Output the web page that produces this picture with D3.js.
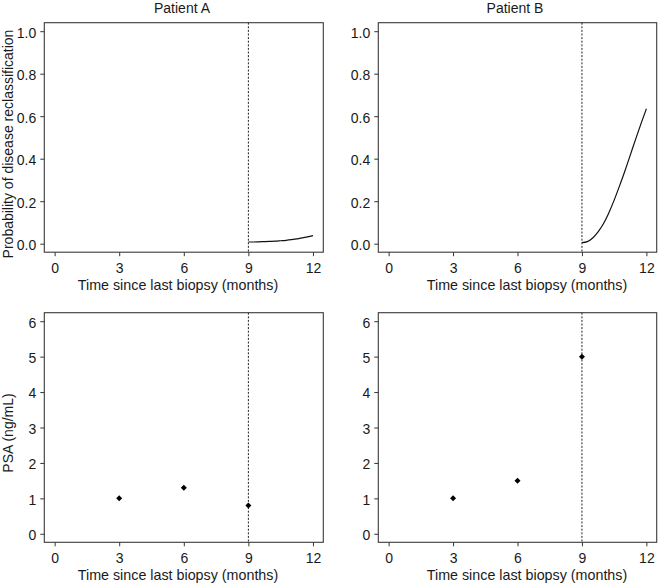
<!DOCTYPE html>
<html>
<head>
<meta charset="utf-8">
<script src="https://cdn.jsdelivr.net/npm/d3@7"></script>
<style>
  html, body { margin: 0; padding: 0; background: #fff; }
  svg { display: block; font-family: "Liberation Sans", Arial, Helvetica, sans-serif; }
</style>
</head>
<body>
<svg id="chart" width="659" height="586"></svg>
<script>
// ---------- data ----------
const patients = ["Patient A", "Patient B"];
const monthTicks = [0, 3, 6, 9, 12];
const probTicks = [0, 0.2, 0.4, 0.6, 0.8, 1.0];
const psaTicks = [0, 1, 2, 3, 4, 5, 6];
const lastVisit = 9;

const curveMonths = [9, 9.25, 9.5, 9.75, 10, 10.25, 10.5, 10.75, 11, 11.25, 11.5, 11.75, 12];
const probA = [0.008, 0.008, 0.009, 0.01, 0.011, 0.012, 0.014, 0.016, 0.019, 0.023, 0.027, 0.032, 0.038];
const probB = [0.005, 0.01, 0.027, 0.056, 0.094, 0.145, 0.205, 0.272, 0.342, 0.417, 0.492, 0.565, 0.635];

const psaMonths = [3, 6, 9];
const psaA = [1.0, 1.3, 0.8];
const psaB = [1.0, 1.5, 5.0];

// ---------- layout ----------
const svg = d3.select("#chart");
const cols = [{x0: 44.3, x1: 323.3, lab: 178}, {x0: 378.3, x1: 656.7, lab: 527}];
const rows = [{y0: 22.7, y1: 252.2}, {y0: 312.7, y1: 542.3}];
const textColor = "#1a1a1a";

function panel(ci, ri, cfg) {
  const c = cols[ci], r = rows[ri];
  const x = d3.scaleLinear().domain([-0.48, 12.48]).range([c.x0, c.x1]);
  const y = d3.scaleLinear().domain(cfg.ydom).range([r.y1, r.y0]);
  const g = svg.append("g");

  // x axis
  const xa = g.append("g").attr("transform", `translate(0,${r.y1})`)
    .call(d3.axisBottom(x).tickValues(monthTicks).tickSize(4).tickPadding(4).tickFormat(d3.format("d")));
  xa.select(".domain").remove();
  xa.selectAll("line").attr("stroke", "#333");
  xa.selectAll("text").attr("font-size", "14px").attr("fill", textColor).attr("dy", "0.92em");

  // y axis
  const ya = g.append("g").attr("transform", `translate(${c.x0},0)`)
    .call(d3.axisLeft(y).tickValues(cfg.yticks).tickSize(4).tickPadding(4).tickFormat(cfg.yfmt));
  ya.select(".domain").remove();
  ya.selectAll("line").attr("stroke", "#333");
  ya.selectAll("text").attr("font-size", "14px").attr("fill", textColor).attr("dy", "0.42em");

  // box
  g.append("rect").attr("x", c.x0).attr("y", r.y0)
    .attr("width", c.x1 - c.x0).attr("height", r.y1 - r.y0)
    .attr("fill", "none").attr("stroke", "#3a3a3a").attr("stroke-width", 1.1);

  // vertical dotted line at last visit
  g.append("line").attr("x1", x(lastVisit)).attr("x2", x(lastVisit))
    .attr("y1", r.y0).attr("y2", r.y1)
    .attr("stroke", "#222").attr("stroke-width", 1).attr("stroke-dasharray", "2,1.6");

  // x label
  g.append("text").attr("x", c.lab).attr("y", r.y1 + 38)
    .attr("text-anchor", "middle").attr("font-size", "14.3px").attr("fill", textColor)
    .text("Time since last biopsy (months)");

  if (cfg.ylabel) {
    g.append("text")
      .attr("transform", `translate(13,${cfg.ylabY}) rotate(-90)`)
      .attr("text-anchor", "middle").attr("font-size", "14px").attr("fill", textColor)
      .text(cfg.ylabel);
  }
  if (cfg.title) {
    g.append("text").attr("x", ci === 0 ? 182 : 515).attr("y", 13)
      .attr("text-anchor", "middle").attr("font-size", "14px").attr("fill", textColor)
      .text(cfg.title);
  }

  if (cfg.curve) {
    const line = d3.line().x((d, i) => x(curveMonths[i])).y(d => y(d)).curve(d3.curveMonotoneX);
    g.append("path").datum(cfg.curve).attr("d", line)
      .attr("fill", "none").attr("stroke", "#111").attr("stroke-width", 1.2);
  }
  if (cfg.points) {
    const sym = d3.symbol().type(d3.symbolSquare).size(18);
    g.selectAll("path.pt").data(cfg.points).join("path").attr("class", "pt")
      .attr("d", sym)
      .attr("transform", (d, i) => `translate(${x(psaMonths[i])},${y(d)}) rotate(45)`)
      .attr("fill", "#000");
  }
}

const probFmt = d3.format(".1f");
panel(0, 0, {ydom: [-0.04, 1.04], yticks: probTicks, yfmt: probFmt, curve: probA,
  title: patients[0], ylabel: "Probability of disease reclassification", ylabY: 144});
panel(1, 0, {ydom: [-0.04, 1.04], yticks: probTicks, yfmt: probFmt, curve: probB,
  title: patients[1]});
panel(0, 1, {ydom: [-0.24, 6.24], yticks: psaTicks, yfmt: d3.format("d"), points: psaA,
  ylabel: "PSA (ng/mL)", ylabY: 433});
panel(1, 1, {ydom: [-0.24, 6.24], yticks: psaTicks, yfmt: d3.format("d"), points: psaB});
</script>
</body>
</html>
